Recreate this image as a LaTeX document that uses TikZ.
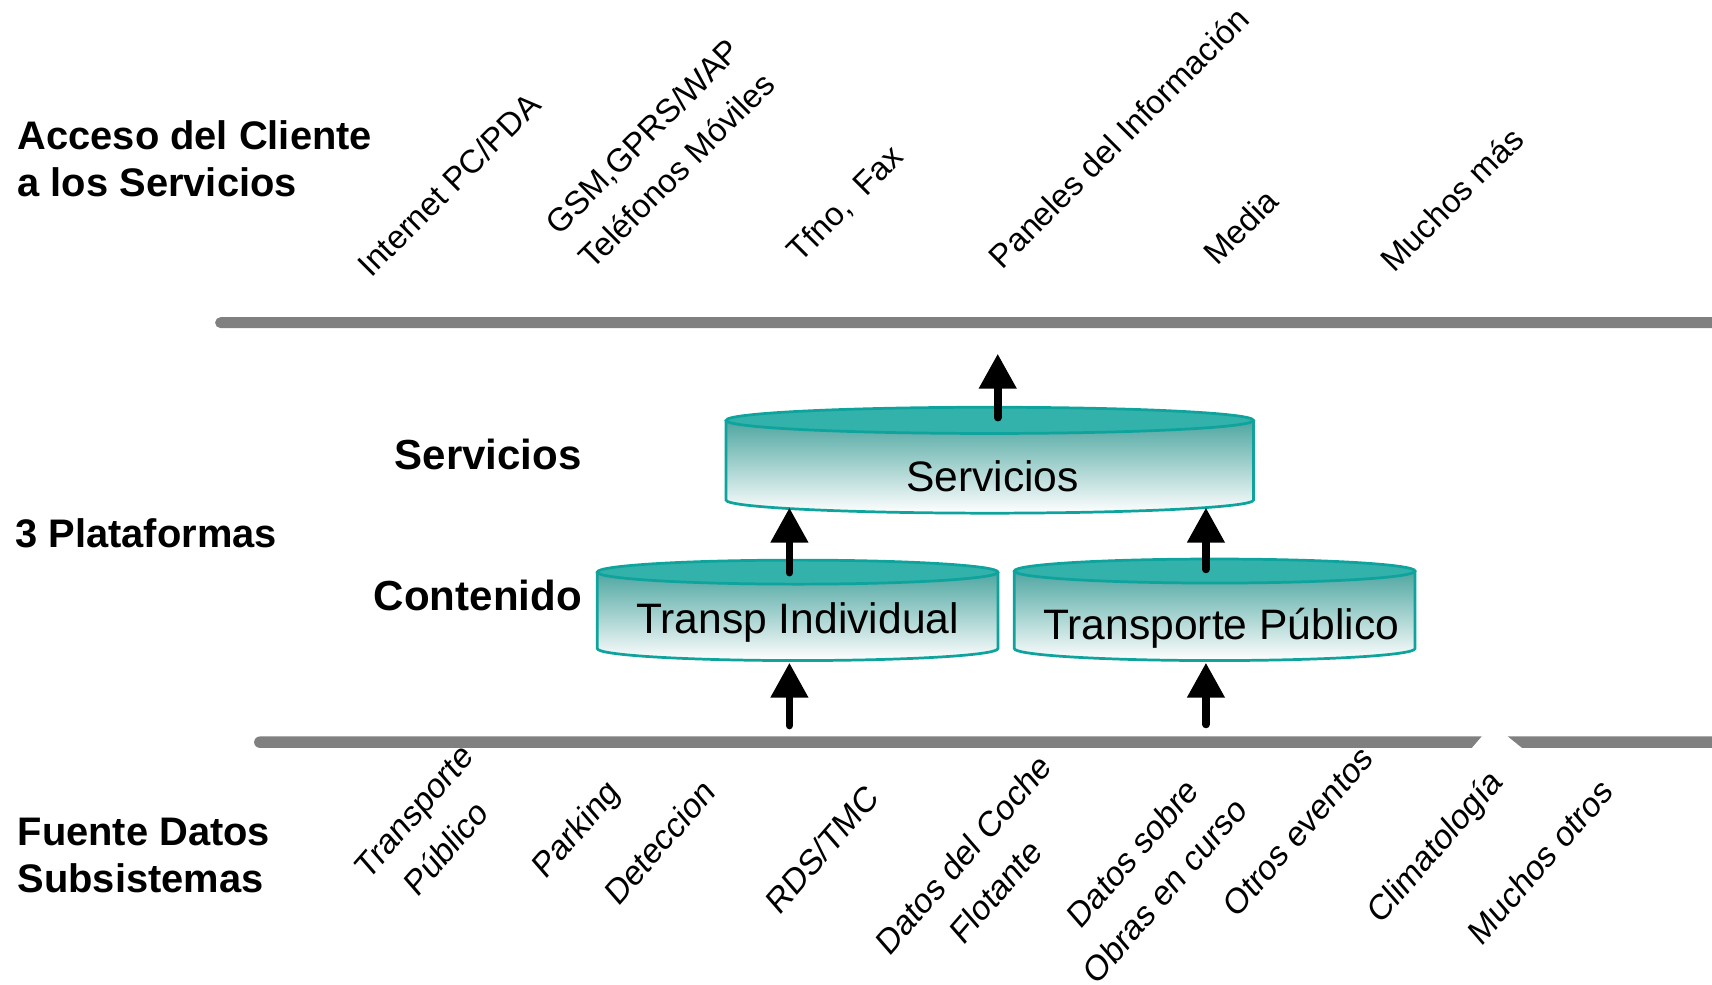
\documentclass[tikz,border=0pt]{standalone}
\usepackage{fontspec}
\setmainfont{Liberation Sans}
\usetikzlibrary{arrows.meta}
\definecolor{linegray}{RGB}{128,128,128}
\definecolor{cylcap}{RGB}{51,178,172}
\definecolor{cylline}{RGB}{14,163,156}
\definecolor{cylbody}{RGB}{78,166,161}
\newcommand\mycyl[5]{%
  \pgfmathsetmacro\cylrx{(#2-#1)/2}%
  \pgfmathsetmacro\cylcx{(#1+#2)/2}%
  \shade[top color=cylbody, bottom color=white] (#1,#3) -- (#1,#4) arc[start angle=180,end angle=360,x radius=\cylrx pt,y radius=#5pt] -- (#2,#3) -- cycle;
  \draw[cylline, line width=2.5pt] (#1,#3) -- (#1,#4) arc[start angle=180,end angle=360,x radius=\cylrx pt,y radius=#5pt] -- (#2,#3);
  \filldraw[fill=cylcap, draw=cylline, line width=2.5pt] (\cylcx,#3) ellipse[x radius=\cylrx pt, y radius=#5pt];
}
\begin{document}
\begin{tikzpicture}[x=1pt,y=-1pt,
  sidelabel/.style={font=\bfseries\fontsize{36.5}{43}\selectfont, align=left, inner sep=0pt},
  midlabel/.style={font=\bfseries\fontsize{38.5}{45}\selectfont, inner sep=0pt, anchor=base east},
  toplabel/.style={font=\fontsize{30}{44}\selectfont, rotate=45, align=center, inner sep=0pt},
  botlabel/.style={font=\fontsize{33}{48}\selectfont, xscale=0.87, rotate=45, align=center, inner sep=0pt},
  cyltext/.style={font=\fontsize{39}{46}\selectfont, inner sep=0pt, anchor=base},
  flow/.style={line width=7pt, line cap=round, -{Triangle[width=33pt,length=32pt]}},
  bar/.style={fill=linegray}]
\useasboundingbox (0,0) rectangle (1568,902);

% bars
\fill[bar] (202,290.5) -- (1575,290.5) -- (1575,300.5) -- (202,300.5) arc[start angle=270,end angle=90,radius=5pt] -- cycle;
\fill[bar] (1357,674.5) -- (238,674.5) arc[start angle=90,end angle=270,radius=5.25pt] -- (1348,685) -- cycle;
\fill[bar] (1381,674.5) -- (1575,674.5) -- (1575,685) -- (1394,685) -- cycle;

% left labels
\node[sidelabel, anchor=north west] (acc) at (16,110) {Acceso del Cliente\\a los Servicios};
\node[sidelabel, anchor=base west] (plat) at (14,501) {3 Plataformas};
\node[sidelabel, anchor=north west] (fue) at (16,749) {Fuente Datos\\Subsistemas};
\node[midlabel] (servl) at (533,430) {Servicios};
\node[midlabel] (contl) at (533,559) {Contenido};

% cylinders
\mycyl{665}{1148}{385}{458}{12}
\mycyl{547}{914}{524}{594}{11}
\mycyl{929}{1296}{523}{594}{11}
\node[cyltext] (cylS) at (909,450) {Servicios};
\node[cyltext] (cylTI) at (730.5,580) {Transp Individual};
\node[cyltext] (cylTP) at (1118.5,586) {Transporte Público};

% arrows
\coordinate (pA0) at (723,664.5);   \coordinate (pA1) at (723,607);
\coordinate (pB0) at (1104.5,663.5); \coordinate (pB1) at (1104.5,607);
\coordinate (pC0) at (723,524.5);   \coordinate (pC1) at (723,465);
\coordinate (pD0) at (1104.5,521.5); \coordinate (pD1) at (1104.5,465);
\coordinate (pE0) at (913.8,382.5); \coordinate (pE1) at (913.8,324);
\draw[flow] (pA0) -- (pA1);
\draw[flow] (pB0) -- (pB1);
\draw[flow] (pC0) -- (pC1);
\draw[flow] (pD0) -- (pD1);
\draw[flow] (pE0) -- (pE1);

% top rotated labels
\node[toplabel] (t1) at (411,169) {Internet PC/PDA};
\node[toplabel] (t2) at (604,140.5) {GSM,GPRS/WAP\\Teléfonos Móviles};
\node[toplabel] (t3) at (775,187) {Tfno,\ \ Fax};
\node[toplabel] (t4) at (1024.5,126) {Paneles del Información};
\node[toplabel] (t5) at (1136,207.5) {Media};
\node[toplabel] (t6) at (1329.5,182.5) {Muchos más};

% bottom rotated labels
\node[botlabel] (b1) at (394,760) {Transporte\\Público};
\node[botlabel] (b2) at (529,761) {Parking};
\node[botlabel] (b3) at (604,771) {Deteccion};
\node[botlabel] (b4) at (752.5,777.5) {RDS/TMC};
\node[botlabel] (b5) at (897,799) {Datos del Coche\\Flotante};
\node[botlabel] (b6) at (1052,798) {Datos sobre\\Obras en curso};
\node[botlabel] (b7) at (1189,761.5) {Otros eventos};
\node[botlabel] (b8) at (1315.5,777) {Climatología};
\node[botlabel] (b9) at (1410.5,789) {Muchos otros};
\end{tikzpicture}
\end{document}
